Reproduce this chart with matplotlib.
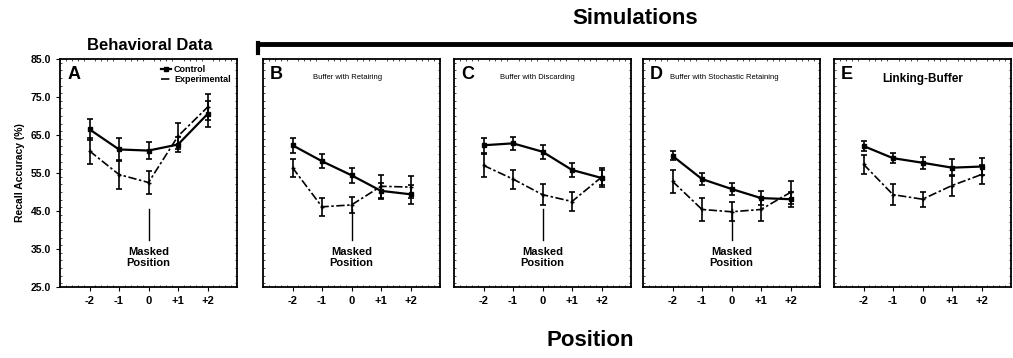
import matplotlib
matplotlib.use("Agg")
import matplotlib.pyplot as plt
from matplotlib.lines import Line2D
from matplotlib.ticker import MultipleLocator

plt.rcParams["font.family"] = ["Liberation Sans", "DejaVu Sans"]

positions = [-2, -1, 0, 1, 2]
tick_labels = ["-2", "-1", "0", "+1", "+2"]
y_ticks = [25, 35, 45, 55, 65, 75, 85]

panel_letters = ["A", "B", "C", "D", "E"]
panel_titles = ["", "Buffer with Retairing", "Buffer with Discarding",
                "Buffer with Stochastic Retaining", "Linking-Buffer"]

control = [
    [66.5, 61.2, 60.9, 62.5, 70.5],
    [62.3, 58.1, 54.4, 50.3, 49.4],
    [62.3, 62.8, 60.6, 55.8, 53.7],
    [59.5, 53.4, 50.8, 48.4, 48.1],
    [62.1, 58.9, 57.7, 56.4, 56.7],
]
control_err = [
    [2.7, 3.0, 2.3, 2.0, 3.5],
    [2.0, 1.8, 2.0, 2.2, 2.5],
    [2.0, 1.8, 1.8, 1.8, 2.5],
    [1.2, 1.5, 1.6, 1.8, 2.0],
    [1.2, 1.3, 1.6, 2.3, 2.2],
]
experimental = [
    [60.8, 54.6, 52.5, 64.7, 72.3],
    [56.4, 46.1, 46.6, 51.5, 51.3],
    [57.0, 53.4, 49.3, 47.5, 53.9],
    [52.8, 45.4, 44.8, 45.4, 49.9],
    [57.3, 49.3, 48.1, 51.7, 54.6],
]
experimental_err = [
    [3.4, 3.7, 3.0, 3.5, 3.4],
    [2.4, 2.3, 2.0, 3.0, 2.8],
    [3.0, 2.5, 2.8, 2.5, 2.0],
    [3.0, 3.0, 2.5, 3.0, 3.0],
    [2.5, 2.8, 2.0, 2.8, 2.5],
]
masked_panels = [True, True, True, True, False]

W, H = 1013, 358
fig = plt.figure(figsize=(W / 100, H / 100), dpi=100)

lefts = [60, 263, 454, 643, 834]
title_x = [0, 0.28, 0.26, 0.15, 0.5]
ax_w, top, bottom = 177, 59, 287
exp_style = (0, (5, 1.5, 1.5, 1.5))

for i in range(5):
    ax = fig.add_axes([lefts[i] / W, 1 - bottom / H, ax_w / W, (bottom - top) / H])
    ax.set_xlim(-3, 3)
    ax.set_ylim(25, 85)
    ax.errorbar(positions, control[i], yerr=control_err[i], color="black",
                lw=1.6, marker="s", ms=3, capsize=2.5, elinewidth=1.2,
                capthick=1.2, label="Control")
    ax.errorbar(positions, experimental[i], yerr=experimental_err[i], color="black",
                lw=1.2, ls=exp_style, marker="+", ms=3, capsize=2.5,
                elinewidth=1.2, capthick=1.2, label="Experimental")
    ax.set_xticks(positions)
    ax.set_xticklabels(tick_labels, fontsize=8, fontweight="bold")
    ax.set_yticks(y_ticks)
    ax.xaxis.set_minor_locator(MultipleLocator(0.2))
    ax.yaxis.set_minor_locator(MultipleLocator(2))
    ax.tick_params(which="major", direction="out", length=3, width=0.8)
    ax.tick_params(which="minor", direction="in", length=1.5, width=0.5,
                   top=True, right=True)
    for s in ax.spines.values():
        s.set_linewidth(1.3)
    if i == 0:
        ax.set_yticklabels([f"{v:.1f}" for v in y_ticks],
                           fontsize=7.5, fontweight="bold")
        ax.set_ylabel("Recall Accuracy (%)", fontsize=7.5, fontweight="bold",
                      labelpad=4)
        handles = [Line2D([0], [0], color="black", lw=1.6, marker="s", ms=3),
                   Line2D([0], [0], color="black", lw=1.2, ls=exp_style)]
        ax.legend(handles, ["Control", "Experimental"], loc="upper right",
                  frameon=False, handlelength=1.2,
                  handletextpad=0.3, borderpad=0.2, labelspacing=0.1,
                  prop={"weight": "bold", "size": 6.5})
    else:
        ax.tick_params(axis="y", which="major", labelleft=False, length=0)
    ax.text(0.04, 0.97, panel_letters[i], transform=ax.transAxes, ha="left",
            va="top", fontsize=13, fontweight="bold")
    if i == 4:
        ax.text(title_x[i], 0.94, panel_titles[i], transform=ax.transAxes,
                ha="center", va="top", fontsize=8.5, fontweight="bold")
    elif panel_titles[i]:
        ax.text(title_x[i], 0.935, panel_titles[i], transform=ax.transAxes,
                ha="left", va="top", fontsize=5.5)
    if masked_panels[i]:
        ax.plot([0, 0], [45.5, 37.5], color="black", lw=1)
        ax.text(0, 35.5, "Masked\nPosition", ha="center", va="top", fontsize=8,
                fontweight="bold", linespacing=1.1)

fig.text(150 / W, 1 - 46 / H, "Behavioral Data", ha="center", va="center",
         fontsize=12, fontweight="bold")
fig.text(635 / W, 1 - 18 / H, "Simulations", ha="center", va="center",
         fontsize=16, fontweight="bold")
fig.text(590 / W, 1 - 340 / H, "Position", ha="center", va="center",
         fontsize=16, fontweight="bold")

# bracket over simulation panels
fig.add_artist(Line2D([258 / W, 1.0], [1 - 44 / H, 1 - 44 / H], color="black", lw=3.5))
fig.add_artist(Line2D([258 / W, 258 / W], [1 - 43 / H, 1 - 53 / H], color="black", lw=3))

fig.savefig("out.png", dpi=100)
